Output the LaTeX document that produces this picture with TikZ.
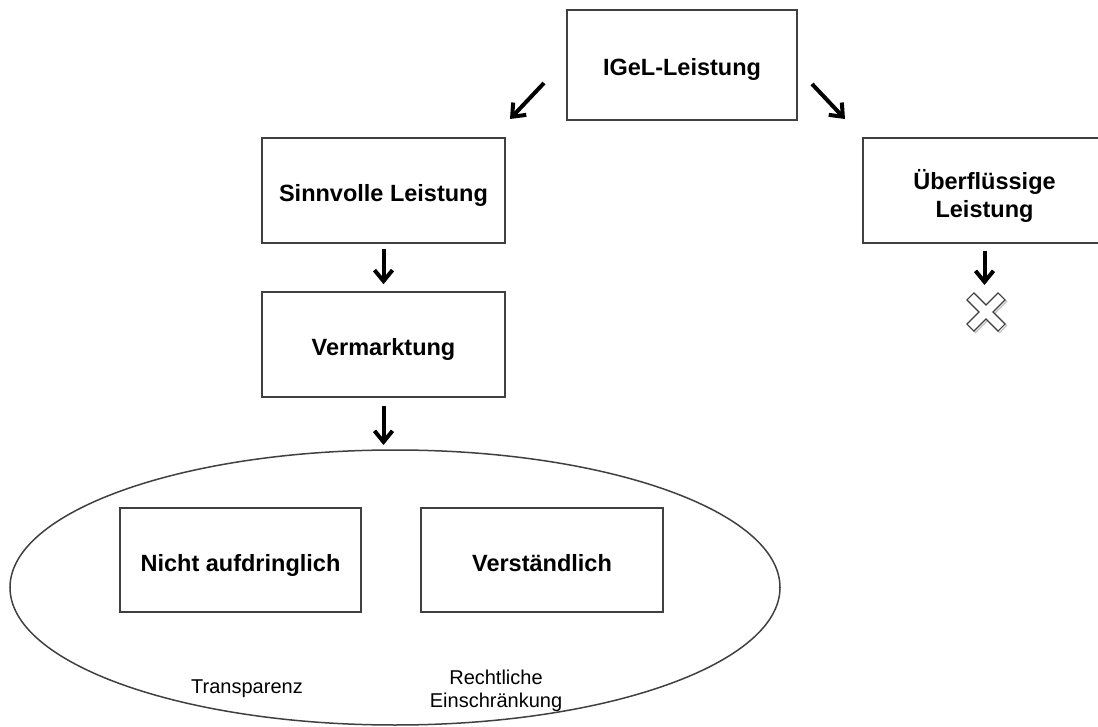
\documentclass[tikz,border=0pt]{standalone}
\usepackage{fontspec}
\setmainfont{Liberation Sans}
\usetikzlibrary{arrows.meta}

\begin{document}
\begin{tikzpicture}[x=.5pt,y=-.5pt,line width=.75pt,
  box/.style={draw=black!75,fill=white,inner sep=0pt,align=center,
    font=\fontsize{11.75}{14}\selectfont\bfseries},
  oneline/.style={text height=11pt,text depth=0pt},
  note/.style={align=center,font=\fontsize{10}{11.5}\selectfont},
  arr/.style={line width=2pt,-{Straight Barb[length=5.5pt,width=9pt,line width=2pt]}}]
\useasboundingbox (0,0) rectangle (1098,727);
\node[box,oneline,minimum width=115pt,minimum height=55pt] (igel) at (682,65) {IGeL-Leistung};
\node[box,oneline,minimum width=121.5pt,minimum height=52.5pt] (sinn) at (383.5,190.5) {Sinnvolle Leistung};
\node[box,minimum width=121.5pt,minimum height=52.5pt] (ueber) at (984.5,190.5) {\rule{0pt}{15pt}Überflüssige\\Leistung};
\node[box,oneline,minimum width=121.5pt,minimum height=52.5pt] (verm) at (383.5,344.5) {Vermarktung};
\draw[draw=black!75] (395,587.5) ellipse [x radius=385,y radius=137.5];
\coordinate (ell) at (395,450);
\node[box,oneline,minimum width=120.5pt,minimum height=52pt] (nicht) at (240.5,560) {Nicht aufdringlich};
\node[box,oneline,minimum width=121pt,minimum height=52pt] (verst) at (542,560) {Verständlich};
\node[note] (transp) at (247,689) {Transparenz};
\node[note] (recht) at (496,691) {Rechtliche\\Einschränkung};
% cross below the right branch
\coordinate (kreuz) at (986,312);
\foreach \dx/\col in {1.5/black!25,0/black!75}{
  \begin{scope}[shift={(kreuz)},shift={(\dx,\dx)},rotate=45]
  \draw[draw=\col,line width=.6pt,fill=white]
    (5,5) -- ++(0,17) -- ++(-10,0) -- ++(0,-17) -- ++(-17,0) -- ++(0,-10)
    -- ++(17,0) -- ++(0,-17) -- ++(10,0) -- ++(0,17) -- ++(17,0) -- ++(0,10) -- cycle;
  \end{scope}
}
% arrows
\coordinate (ls) at (544,83);
\coordinate (le) at (510,119);
\coordinate (rs) at (812,84);
\coordinate (re) at (845,119);
\draw[arr] (ls) -- (le);
\draw[arr] (rs) -- (re);
\draw[arr,shorten <=2.5pt,shorten >=3.5pt] (sinn.south) -- (sinn.south |- verm.north);
\draw[arr,shorten <=4pt,shorten >=2.5pt] (verm.south) -- (verm.south |- ell);
\draw[arr,shorten <=3.5pt,shorten >=13.5pt] (ueber.south) -- (ueber.south |- kreuz);
\end{tikzpicture}
\end{document}
